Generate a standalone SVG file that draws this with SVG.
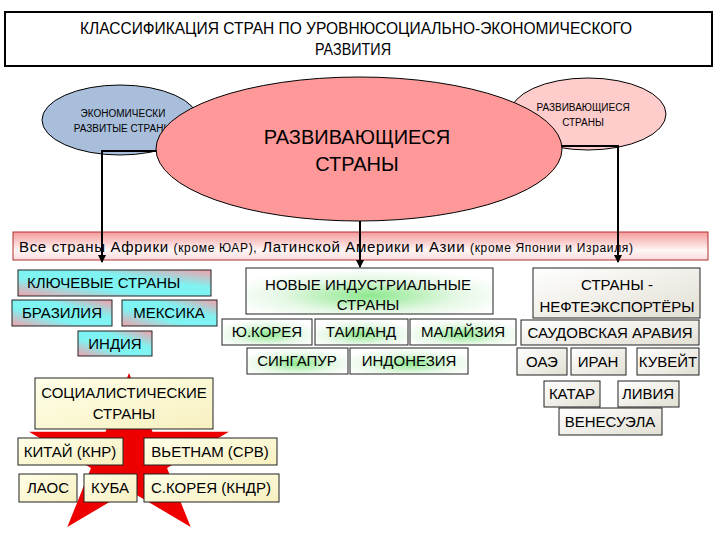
<svg xmlns="http://www.w3.org/2000/svg" width="720" height="540" viewBox="0 0 720 540">
<defs>
<style>
text{font-family:"Liberation Sans",Arial,sans-serif;fill:#000}
.t15{font-size:15px;text-anchor:middle}
.t10{font-size:10px;text-anchor:middle}
.box{stroke:#222;stroke-width:1}
.key{fill:url(#gKey)}
.nic{fill:url(#gNic)}
.oil{fill:url(#gOil)}
.soc{fill:url(#gSoc)}
.con{fill:none;stroke:#000;stroke-width:2}
</style>
<linearGradient id="gKey" x1="0" y1="1" x2="1" y2="0">
<stop offset="0" stop-color="#f2a0aa"/><stop offset="0.35" stop-color="#7ff2f2"/><stop offset="0.65" stop-color="#7ff2f2"/><stop offset="1" stop-color="#f2a0aa"/>
</linearGradient>
<radialGradient id="gNic" cx="0.5" cy="0.6" r="0.6">
<stop offset="0" stop-color="#8ee88e"/><stop offset="0.6" stop-color="#e6f8e6"/><stop offset="1" stop-color="#ffffff"/>
</radialGradient>
<linearGradient id="gOil" x1="0" y1="0" x2="1" y2="1">
<stop offset="0" stop-color="#ffffff"/><stop offset="1" stop-color="#e2dfd3"/>
</linearGradient>
<linearGradient id="gSoc" x1="0" y1="0" x2="1" y2="1">
<stop offset="0" stop-color="#ffffe8"/><stop offset="1" stop-color="#f7f0c0"/>
</linearGradient>
<linearGradient id="gBand" x1="0" y1="0" x2="0" y2="1">
<stop offset="0" stop-color="#f59a9a"/><stop offset="0.65" stop-color="#fff6f6"/><stop offset="1" stop-color="#fbdada"/>
</linearGradient>
<marker id="arr" markerWidth="8" markerHeight="8" refX="7" refY="4" orient="auto" markerUnits="userSpaceOnUse">
<path d="M0,0 L8,4 L0,8 z" fill="#000"/>
</marker>
</defs>
<rect width="720" height="540" fill="#fff"/>

<g id="title">
<rect x="5" y="12" width="707" height="54" fill="#fff" stroke="#000" stroke-width="2"/>
<text x="356" y="34" font-size="16" text-anchor="middle" textLength="552" lengthAdjust="spacingAndGlyphs">КЛАССИФИКАЦИЯ СТРАН ПО УРОВНЮСОЦИАЛЬНО-ЭКОНОМИЧЕСКОГО</text>
<text x="353" y="55" font-size="16" text-anchor="middle" textLength="76" lengthAdjust="spacingAndGlyphs">РАЗВИТИЯ</text>
</g>

<g id="developed">
<ellipse cx="120" cy="120" rx="78" ry="35" fill="#a8bedb" stroke="#000" stroke-width="1"/>
<text class="t10" x="123" y="117">ЭКОНОМИЧЕСКИ</text>
<text class="t10" x="123" y="132">РАЗВИТЫЕ СТРАНЫ</text>
</g>

<g id="developing-small">
<ellipse cx="588" cy="114" rx="78" ry="36" fill="#ffcccc" stroke="#000" stroke-width="1"/>
<text class="t10" x="583" y="111">РАЗВИВАЮЩИЕСЯ</text>
<text class="t10" x="583" y="126">СТРАНЫ</text>
</g>

<g id="band">
<rect x="13" y="232" width="695" height="28" fill="url(#gBand)" stroke="#b03030" stroke-width="1"/>
<text x="19" y="252" font-size="15" textLength="614" lengthAdjust="spacing">Все страны Африки <tspan font-size="12">(кроме ЮАР),</tspan> Латинской Америки и Азии <tspan font-size="12">(кроме Японии и Израиля)</tspan></text>
</g>

<g id="connectors">
<path class="con" d="M359,151 H102 V262" marker-end="url(#arr)"/>
<path class="con" d="M359,146 H618 V262" marker-end="url(#arr)"/>
<path class="con" d="M360,215 V267" marker-end="url(#arr)"/>
</g>

<g id="developing">
<ellipse cx="359" cy="149" rx="203" ry="72" fill="#ff9999" stroke="#000" stroke-width="1"/>
<text x="357" y="144" font-size="20" text-anchor="middle">РАЗВИВАЮЩИЕСЯ</text>
<text x="357" y="171" font-size="20" text-anchor="middle">СТРАНЫ</text>
</g>

<g id="key">
<rect class="box key" x="18" y="270" width="193" height="26"/>
<text x="27" y="288" font-size="15">КЛЮЧЕВЫЕ СТРАНЫ</text>
</g>
<g id="brazil"><rect class="box key" x="12" y="300" width="100" height="26"/><text class="t15" x="62" y="318">БРАЗИЛИЯ</text></g>
<g id="mexico"><rect class="box key" x="122" y="300" width="95" height="26"/><text class="t15" x="169" y="318">МЕКСИКА</text></g>
<g id="india"><rect class="box key" x="78" y="331" width="74" height="25"/><text class="t15" x="115" y="349">ИНДИЯ</text></g>

<g id="nic">
<rect class="box nic" x="246" y="268" width="247" height="46"/>
<text class="t15" x="368" y="290">НОВЫЕ ИНДУСТРИАЛЬНЫЕ</text>
<text class="t15" x="368" y="310">СТРАНЫ</text>
</g>
<g id="skorea"><rect class="box nic" x="222" y="319" width="90" height="26"/><text class="t15" x="267" y="337">Ю.КОРЕЯ</text></g>
<g id="thailand"><rect class="box nic" x="315" y="319" width="93" height="26"/><text class="t15" x="361" y="337">ТАИЛАНД</text></g>
<g id="malaysia"><rect class="box nic" x="410" y="319" width="106" height="26"/><text class="t15" x="463" y="337">МАЛАЙЗИЯ</text></g>
<g id="singapore"><rect class="box nic" x="247" y="348" width="101" height="26"/><text class="t15" x="297" y="366">СИНГАПУР</text></g>
<g id="indonesia"><rect class="box nic" x="350" y="348" width="118" height="26"/><text class="t15" x="409" y="366">ИНДОНЕЗИЯ</text></g>

<g id="oil">
<rect class="box oil" x="533" y="268" width="167" height="50"/>
<text class="t15" x="617" y="290">СТРАНЫ -</text>
<text class="t15" x="617" y="312">НЕФТЕЭКСПОРТЁРЫ</text>
</g>
<g id="saudi"><rect class="box oil" x="521" y="320" width="178" height="25"/><text class="t15" x="610" y="338">САУДОВСКАЯ АРАВИЯ</text></g>
<g id="uae"><rect class="box oil" x="517" y="348" width="50" height="27"/><text class="t15" x="542" y="367">ОАЭ</text></g>
<g id="iran"><rect class="box oil" x="571" y="348" width="55" height="27"/><text class="t15" x="598" y="367">ИРАН</text></g>
<g id="kuwait"><rect class="box oil" x="637" y="348" width="62" height="27"/><text class="t15" x="668" y="367">КУВЕЙТ</text></g>
<g id="qatar"><rect class="box oil" x="544" y="381" width="56" height="26"/><text class="t15" x="572" y="399">КАТАР</text></g>
<g id="libya"><rect class="box oil" x="618" y="381" width="61" height="26"/><text class="t15" x="648" y="399">ЛИВИЯ</text></g>
<g id="venezuela"><rect class="box oil" x="559" y="408" width="103" height="27"/><text class="t15" x="610" y="427">ВЕНЕСУЭЛА</text></g>

<g id="star">
<polygon points="129,373 152.5,431.7 229,431.7 167,468 190.7,527 129,490.5 67.3,527 91,468 29,431.7 105.5,431.7" fill="#ee0000"/>
</g>

<g id="socialist">
<rect class="box soc" x="35" y="378" width="178" height="51"/>
<text class="t15" x="124" y="398">СОЦИАЛИСТИЧЕСКИЕ</text>
<text class="t15" x="124" y="419">СТРАНЫ</text>
</g>
<g id="china"><rect class="box soc" x="18" y="438" width="105" height="27"/><text class="t15" x="70" y="457">КИТАЙ (КНР)</text></g>
<g id="vietnam"><rect class="box soc" x="144" y="438" width="133" height="27"/><text class="t15" x="210" y="457">ВЬЕТНАМ (СРВ)</text></g>
<g id="laos"><rect class="box soc" x="19" y="474" width="58" height="28"/><text class="t15" x="48" y="493">ЛАОС</text></g>
<g id="cuba"><rect class="box soc" x="84" y="474" width="53" height="28"/><text class="t15" x="110" y="493">КУБА</text></g>
<g id="nkorea"><rect class="box soc" x="144" y="474" width="135" height="28"/><text class="t15" x="211" y="493">С.КОРЕЯ (КНДР)</text></g>
</svg>
